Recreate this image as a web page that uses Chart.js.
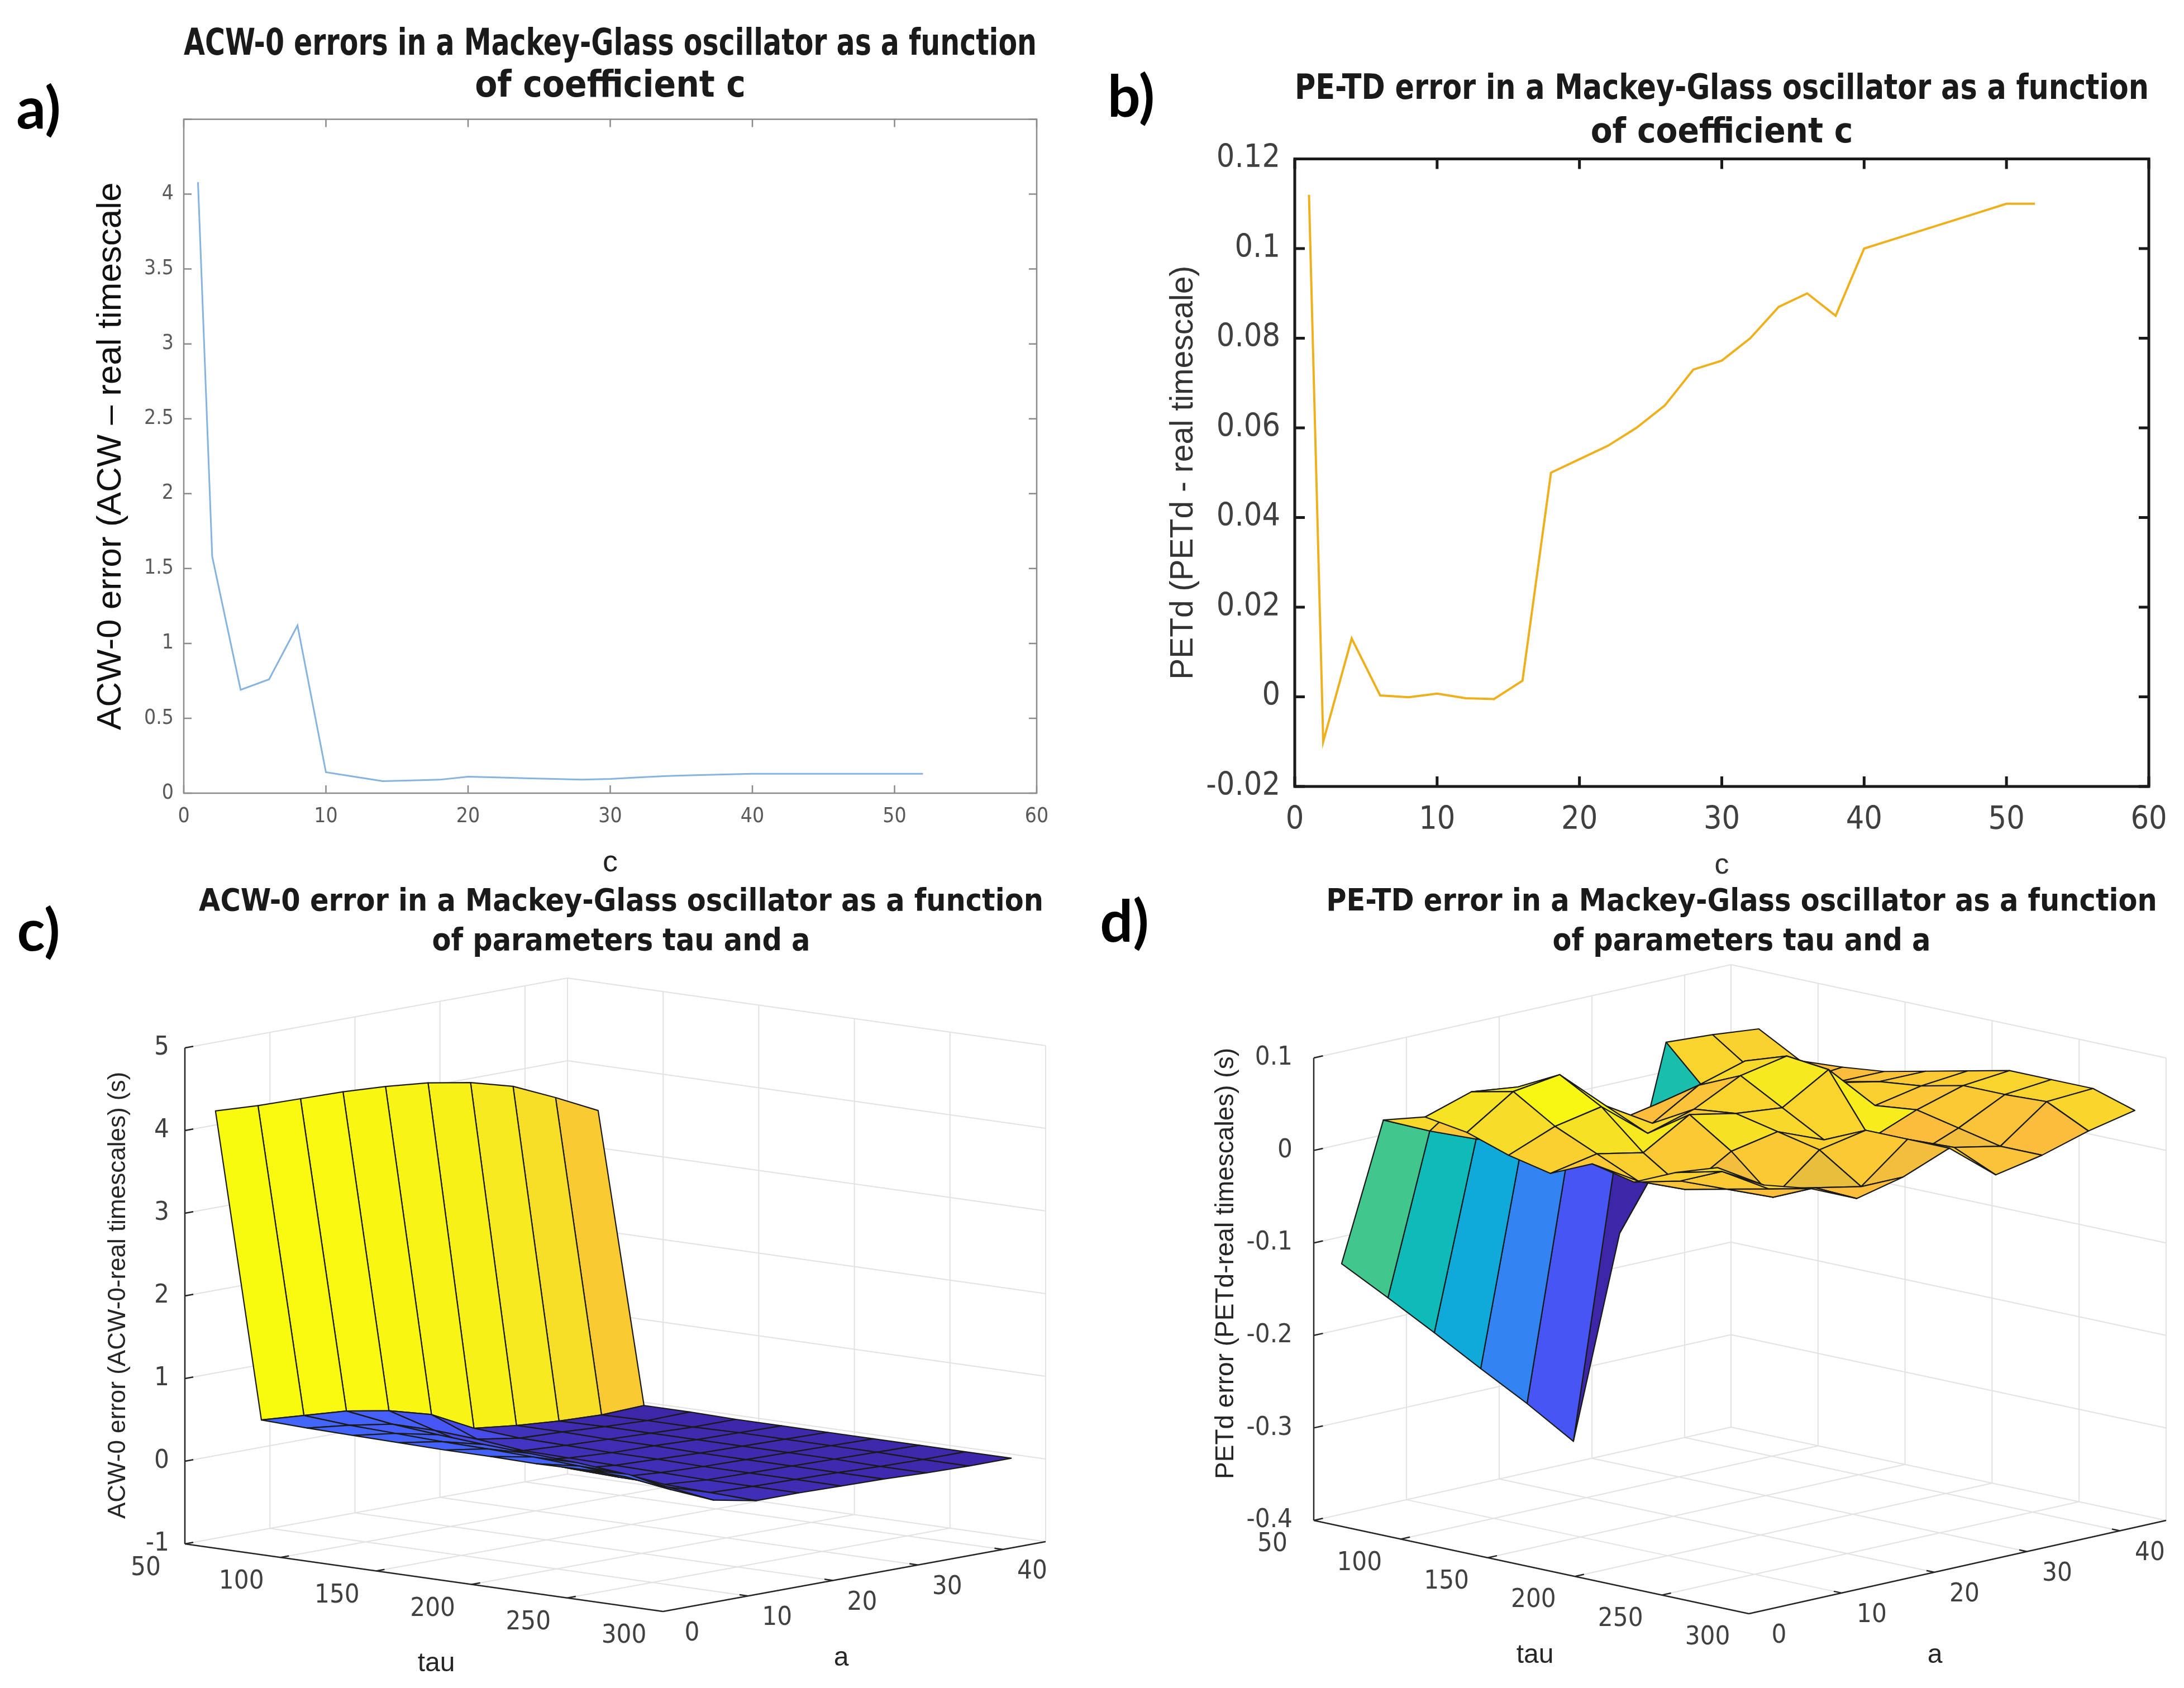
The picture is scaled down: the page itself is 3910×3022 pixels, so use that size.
<!DOCTYPE html>
<html>
<head>
<meta charset="utf-8">
<title>Mackey-Glass oscillator errors</title>
<script src="https://cdn.jsdelivr.net/npm/chart.js@4.4.1/dist/chart.umd.min.js"></script>
<style>
  html, body { margin: 0; padding: 0; background: #fff; }
  body { width: 3910px; height: 3022px; position: relative; overflow: hidden; }
  canvas { position: absolute; }
</style>
</head>
<body>
<canvas id="panelA" style="left:0;top:0" width="1950" height="1600"></canvas>
<canvas id="panelB" style="left:1950px;top:0" width="1960" height="1600"></canvas>
<canvas id="panelC" style="left:0;top:1560px" width="1950" height="1462"></canvas>
<canvas id="panelD" style="left:1950px;top:1560px" width="1960" height="1462"></canvas>
<script>
// ---- data: errors vs coefficient c (panels a, b) ----
const cValues = [1, 2, 4, 6, 8, 10, 12, 14, 16, 18, 20, 22, 24, 26, 28, 30, 32, 34, 36, 38, 40, 42, 44, 46, 48, 50, 52];
const acwErrors = [4.08, 1.58, 0.69, 0.76, 1.12, 0.14, 0.11, 0.08, 0.085, 0.09, 0.11, 0.105, 0.10, 0.095, 0.09, 0.095,
                   0.105, 0.115, 0.12, 0.125, 0.13, 0.13, 0.13, 0.13, 0.13, 0.13, 0.13];
const petdErrors = [0.112, -0.01, 0.013, 0.0003, -0.0001, 0.0007, -0.0003, -0.0005, 0.0036, 0.050, 0.053, 0.056, 0.060,
                    0.065, 0.073, 0.075, 0.080, 0.087, 0.090, 0.085, 0.100, 0.102, 0.104, 0.106, 0.108, 0.110, 0.110];

// ---- data: errors vs tau and a (panels c, d); rows = tau, columns = a ----
const tauValues = [66, 90, 114, 138, 162, 186, 210, 234, 258, 282];
const aValues = [0, 5, 10, 15, 20, 25, 30, 35, 40, 45];
const acwSurface = [
  [4.29, 4.26, 4.25, 4.24, 4.21, 4.16, 4.07, 3.93, 3.70, 3.45],
  [0.63, 0.59, 0.55, 0.46, 0.32, 0.06, 0.00, -0.04, -0.06, -0.04],
  [0.61, 0.55, 0.47, 0.30, 0.10, 0.02, 0.00, -0.03, -0.05, -0.04],
  [0.60, 0.53, 0.42, 0.15, 0.04, 0.01, -0.01, -0.03, -0.05, -0.05],
  [0.59, 0.51, 0.38, 0.10, 0.03, 0.00, -0.01, -0.03, -0.04, -0.05],
  [0.58, 0.50, 0.35, 0.07, 0.02, 0.00, -0.02, -0.03, -0.04, -0.05],
  [0.58, 0.48, 0.32, 0.05, 0.01, -0.01, -0.02, -0.03, -0.04, -0.05],
  [0.57, 0.45, 0.27, 0.04, 0.00, -0.01, -0.02, -0.03, -0.04, -0.05],
  [0.58, 0.40, 0.18, 0.02, 0.00, -0.01, -0.02, -0.04, -0.05, -0.05],
  [0.60, 0.32, 0.10, 0.00, 0.00, -0.01, -0.02, -0.04, -0.05, -0.05]
];
const petdSurface = [
  [-0.116, -0.164, -0.213, -0.263, -0.312, -0.364, -0.150, 0.045, 0.042, 0.037],
  [0.049, 0.026, 0.006, -0.008, -0.027, -0.050, -0.060, 0.000, 0.011, 0.012],
  [0.062, 0.078, 0.072, 0.040, 0.010, 0.020, 0.030, 0.020, 0.010, 0.015],
  [0.055, 0.088, 0.095, 0.050, 0.020, 0.050, 0.065, 0.055, 0.020, 0.020],
  [0.040, 0.060, 0.070, 0.030, 0.045, 0.070, 0.080, 0.040, 0.030, 0.030],
  [0.030, 0.040, 0.030, 0.060, 0.050, 0.045, 0.075, 0.025, 0.035, 0.040],
  [0.050, 0.020, 0.000, 0.030, 0.040, 0.020, 0.010, 0.030, 0.045, 0.050],
  [0.040, 0.030, 0.010, -0.010, 0.030, 0.040, 0.000, 0.020, 0.045, 0.050],
  [0.060, 0.050, 0.020, 0.010, 0.000, 0.040, 0.020, 0.010, 0.047, 0.050],
  [0.075, 0.045, 0.030, 0.008, 0.020, 0.040, 0.000, 0.010, 0.025, 0.036]
];
const tauTicks = [50, 100, 150, 200, 250, 300];
const aTicks = [0, 10, 20, 30, 40];
const acwZTicks = [-1, 0, 1, 2, 3, 4, 5];
const petdZTicks = [-0.4, -0.3, -0.2, -0.1, 0, 0.1];

const NARROW = '"Liberation Sans Narrow", "Arial Narrow", "DejaVu Sans Condensed", sans-serif';
const SANS = '"Liberation Sans", Arial, sans-serif';
const LETTER = 'Lato, "Open Sans", sans-serif';

// parula-like colormap
const parulaStops = [
  [0.00, 62, 38, 168], [0.10, 72, 80, 242], [0.17, 66, 106, 252], [0.25, 40, 148, 236],
  [0.33, 16, 170, 218], [0.41, 4, 184, 194], [0.49, 34, 193, 164], [0.57, 84, 202, 128],
  [0.65, 150, 200, 90], [0.73, 208, 194, 60], [0.81, 252, 188, 62], [0.87, 250, 204, 50],
  [0.93, 246, 228, 36], [1.00, 249, 251, 14]
];
function parula(t) {
  t = Math.max(0, Math.min(1, t));
  for (let k = 1; k < parulaStops.length; k++) {
    const [t1, r1, g1, b1] = parulaStops[k];
    const [t0, r0, g0, b0] = parulaStops[k - 1];
    if (t <= t1) {
      const f = (t - t0) / (t1 - t0);
      return `rgb(${Math.round(r0 + f * (r1 - r0))},${Math.round(g0 + f * (g1 - g0))},${Math.round(b0 + f * (b1 - b0))})`;
    }
  }
  return 'rgb(249,251,14)';
}

// panel letters a) b) c) d)
const panelLetter = {
  id: 'panelLetter',
  afterDraw(chart, args, opts) {
    const ctx = chart.ctx;
    ctx.save();
    ctx.font = `bold ${opts.size}px ${LETTER}`;
    ctx.fillStyle = '#000';
    ctx.textAlign = 'center';
    ctx.textBaseline = 'middle';
    ctx.fillText(opts.text, opts.x, opts.y);
    ctx.restore();
  }
};

// matlab style box with inward ticks on all four sides
const matlabBox = {
  id: 'matlabBox',
  afterDatasetsDraw(chart, args, opts) {
    const { ctx, chartArea: ca, scales: { x, y } } = chart;
    ctx.save();
    ctx.strokeStyle = opts.color;
    ctx.lineWidth = opts.width;
    ctx.strokeRect(ca.left, ca.top, ca.right - ca.left, ca.bottom - ca.top);
    ctx.beginPath();
    x.ticks.forEach(t => {
      const px = x.getPixelForValue(t.value);
      ctx.moveTo(px, ca.bottom); ctx.lineTo(px, ca.bottom - opts.tick);
      ctx.moveTo(px, ca.top); ctx.lineTo(px, ca.top + opts.tick);
    });
    y.ticks.forEach(t => {
      const py = y.getPixelForValue(t.value);
      ctx.moveTo(ca.left, py); ctx.lineTo(ca.left + opts.tick, py);
      ctx.moveTo(ca.right, py); ctx.lineTo(ca.right - opts.tick, py);
    });
    ctx.stroke();
    ctx.restore();
  }
};

// ---- panel a ----
new Chart(document.getElementById('panelA'), {
  type: 'line',
  data: {
    datasets: [{
      data: cValues.map((c, i) => ({ x: c, y: acwErrors[i] })),
      borderColor: '#86b4de', borderWidth: 3, pointRadius: 0, tension: 0, fill: false
    }]
  },
  options: {
    responsive: false, animation: false, devicePixelRatio: 1,
    layout: { padding: { left: 0, right: 94, top: 0, bottom: 0 } },
    plugins: {
      legend: { display: false }, tooltip: { enabled: false },
      title: {
        display: true, fullSize: false,
        text: ['ACW-0 errors in a Mackey-Glass oscillator as a function', 'of coefficient c'],
        font: { family: NARROW, size: 65, weight: 'bold', lineHeight: 1.15 },
        color: '#1a1a1a', padding: { top: 44, bottom: 20 }
      },
      panelLetter: { text: 'a)', x: 69, y: 196, size: 104 },
      matlabBox: { color: '#8a8a8a', width: 2.5, tick: 14 }
    },
    scales: {
      x: {
        type: 'linear', min: 0, max: 60,
        ticks: { stepSize: 10, font: { family: NARROW, size: 37 }, color: '#5a5a5a', padding: 20, maxRotation: 0 },
        grid: { display: false, drawTicks: false }, border: { display: false },
        title: { display: true, text: 'c', font: { family: SANS, size: 54 }, color: '#222', padding: { top: 0, bottom: 22 } },
        afterFit: s => { s.height = 180; }
      },
      y: {
        type: 'linear', min: 0, max: 4.5,
        ticks: {
          stepSize: 0.5, font: { family: NARROW, size: 37 }, color: '#5a5a5a', padding: 18,
          callback: v => (Math.abs(v - 4.5) < 1e-9 ? '' : v)
        },
        grid: { display: false, drawTicks: false }, border: { display: false },
        title: { display: true, text: 'ACW-0 error (ACW – real timescale', font: { family: SANS, size: 62 }, color: '#111', padding: { top: 162, bottom: 0 } },
        afterFit: s => { s.width = 329; }
      }
    }
  },
  plugins: [panelLetter, matlabBox]
});

// ---- panel b ----
new Chart(document.getElementById('panelB'), {
  type: 'line',
  data: {
    datasets: [{
      data: cValues.map((c, i) => ({ x: c, y: petdErrors[i] })),
      borderColor: '#edb120', borderWidth: 4, pointRadius: 0, tension: 0, fill: false
    }]
  },
  options: {
    responsive: false, animation: false, devicePixelRatio: 1,
    layout: { padding: { left: 0, right: 63, top: 0, bottom: 0 } },
    plugins: {
      legend: { display: false }, tooltip: { enabled: false },
      title: {
        display: true, fullSize: false,
        text: ['PE-TD error in a Mackey-Glass oscillator as a function', 'of coefficient c'],
        font: { family: NARROW, size: 63, weight: 'bold', lineHeight: 1.25 },
        color: '#1a1a1a', padding: { top: 121, bottom: 6 }
      },
      panelLetter: { text: 'b)', x: 75, y: 175, size: 104 },
      matlabBox: { color: '#1a1a1a', width: 5, tick: 18 }
    },
    scales: {
      x: {
        type: 'linear', min: 0, max: 60,
        ticks: { stepSize: 10, font: { family: NARROW, size: 57 }, color: '#404040', padding: 27, maxRotation: 0 },
        grid: { display: false, drawTicks: false }, border: { display: false },
        title: { display: true, text: 'c', font: { family: SANS, size: 52 }, color: '#333', padding: { top: 0, bottom: 19 } },
        afterFit: s => { s.height = 192; }
      },
      y: {
        type: 'linear', min: -0.02, max: 0.12,
        ticks: {
          stepSize: 0.02, font: { family: NARROW, size: 57 }, color: '#404040', padding: 26,
          callback: v => String(Number(v.toFixed(2)))
        },
        grid: { display: false, drawTicks: false }, border: { display: false },
        title: { display: true, text: 'PETd (PETd - real timescale)', font: { family: SANS, size: 57 }, color: '#333', padding: { top: 135, bottom: 0 } },
        afterFit: s => { s.width = 368; }
      }
    }
  },
  plugins: [panelLetter, matlabBox]
});

// ---- 3D surface panels ----
function projector(g) {
  return (tau, a, z) => {
    const u = (tau - g.tauRange[0]) / (g.tauRange[1] - g.tauRange[0]);
    const v = (a - g.aRange[0]) / (g.aRange[1] - g.aRange[0]);
    const w = (z - g.zRange[0]) / (g.zRange[1] - g.zRange[0]);
    return {
      x: g.origin[0] + u * g.tauAxis[0] + v * g.aAxis[0],
      y: g.origin[1] + u * g.tauAxis[1] + v * g.aAxis[1] - w * g.height,
      depth: u * g.tauAxis[1] + v * g.aAxis[1]
    };
  };
}

function surfacePlugin(cfg) {
  const project = projector(cfg.geom);
  const g = cfg.geom;
  return {
    id: 'surfacePlot',
    beforeDatasetsDraw(chart) {
      const { ctx, scales: { x: sx, y: sy } } = chart;
      const P = (t, a, z) => {
        const p = project(t, a, z);
        return { x: sx.getPixelForValue(p.x), y: sy.getPixelForValue(p.y), depth: p.depth };
      };
      const [t0, t1] = g.tauRange, [a0, a1] = g.aRange, [z0, z1] = g.zRange;
      const line = (p, q) => { ctx.moveTo(p.x, p.y); ctx.lineTo(q.x, q.y); };

      ctx.save();
      // back planes and floor grid
      ctx.strokeStyle = '#e2e2e2';
      ctx.lineWidth = 2;
      ctx.beginPath();
      cfg.tauTicks.forEach(t => {
        line(P(t, a0, z0), P(t, a1, z0));
        line(P(t, a1, z0), P(t, a1, z1));
      });
      cfg.aTicks.forEach(a => {
        line(P(t0, a, z0), P(t1, a, z0));
        line(P(t0, a, z0), P(t0, a, z1));
      });
      cfg.zTicks.forEach(z => {
        line(P(t0, a1, z), P(t1, a1, z));
        line(P(t0, a0, z), P(t0, a1, z));
      });
      ctx.stroke();

      // axis lines and tick marks
      ctx.strokeStyle = '#262626';
      ctx.lineWidth = 2.5;
      ctx.beginPath();
      line(P(t0, a0, z0), P(t1, a0, z0));
      line(P(t1, a0, z0), P(t1, a1, z0));
      line(P(t0, a0, z0), P(t0, a0, z1));
      const tickA = (a1 - a0) * 0.022, tickT = (t1 - t0) * 0.018;
      cfg.tauTicks.forEach(t => line(P(t, a0, z0), P(t, a0 + tickA, z0)));
      cfg.aTicks.forEach(a => line(P(t1, a, z0), P(t1 - tickT, a, z0)));
      cfg.zTicks.forEach(z => line(P(t0, a0, z), P(t0, a0 + tickA, z)));
      ctx.stroke();

      // surface faces, far to near
      const zs = cfg.z.flat();
      const zmin = Math.min(...zs), zmax = Math.max(...zs);
      const faces = [];
      for (let i = 0; i < cfg.tau.length - 1; i++) {
        for (let j = 0; j < cfg.a.length - 1; j++) {
          const pts = [[i, j], [i + 1, j], [i + 1, j + 1], [i, j + 1]].map(([r, c]) => P(cfg.tau[r], cfg.a[c], cfg.z[r][c]));
          faces.push({
            pts,
            depth: pts.reduce((s, p) => s + p.depth, 0) / 4,
            color: parula((cfg.z[i][j] - zmin) / (zmax - zmin))
          });
        }
      }
      faces.sort((f, h) => f.depth - h.depth);
      ctx.lineWidth = 2.2;
      ctx.lineJoin = 'round';
      ctx.strokeStyle = '#1a1a1a';
      faces.forEach(f => {
        ctx.beginPath();
        f.pts.forEach((p, k) => (k ? ctx.lineTo(p.x, p.y) : ctx.moveTo(p.x, p.y)));
        ctx.closePath();
        ctx.fillStyle = f.color;
        ctx.fill();
        ctx.stroke();
      });

      // tick labels
      ctx.fillStyle = '#404040';
      ctx.font = `${cfg.tickSize}px ${NARROW}`;
      ctx.textBaseline = 'middle';
      ctx.textAlign = 'right';
      cfg.zTicks.forEach(z => {
        const p = P(t0, a0, z);
        ctx.fillText(String(z), p.x - cfg.zLabelGap, p.y);
      });
      ctx.textAlign = 'center';
      cfg.tauTicks.forEach(t => {
        const p = P(t, a0, z0);
        ctx.fillText(String(t), p.x + cfg.tauLabelOff[0], p.y + cfg.tauLabelOff[1]);
      });
      cfg.aTicks.forEach(a => {
        const p = P(t1, a, z0);
        ctx.fillText(String(a), p.x + cfg.aLabelOff[0], p.y + cfg.aLabelOff[1]);
      });

      // axis titles
      ctx.fillStyle = '#262626';
      ctx.font = `${cfg.axisTitleSize}px ${SANS}`;
      ctx.fillText('tau', cfg.tauTitle[0], cfg.tauTitle[1]);
      ctx.fillText('a', cfg.aTitle[0], cfg.aTitle[1]);
      ctx.save();
      ctx.translate(cfg.zTitle[0], cfg.zTitle[1]);
      ctx.rotate(-Math.PI / 2);
      ctx.font = `${cfg.zTitleSize}px ${SANS}`;
      ctx.fillText(cfg.zLabel, 0, 0);
      ctx.restore();

      // chart title
      ctx.fillStyle = '#1a1a1a';
      ctx.font = `bold ${cfg.titleSize}px ${NARROW}`;
      cfg.title.forEach((txt, k) => ctx.fillText(txt, cfg.titlePos[0], cfg.titlePos[1] + k * cfg.titleGap));
      ctx.restore();
    }
  };
}

function surfaceChart(canvasId, cfg) {
  const canvas = document.getElementById(canvasId);
  const project = projector(cfg.geom);
  const verts = [];
  cfg.tau.forEach((t, i) => cfg.a.forEach((a, j) => {
    const p = project(t, a, cfg.z[i][j]);
    verts.push({ x: p.x, y: p.y });
  }));
  return new Chart(canvas, {
    type: 'scatter',
    data: { datasets: [{ data: verts, pointRadius: 0, showLine: false }] },
    options: {
      responsive: false, animation: false, devicePixelRatio: 1,
      layout: { padding: 0 },
      scales: {
        x: { type: 'linear', min: 0, max: canvas.width, display: false },
        y: { type: 'linear', min: 0, max: canvas.height, reverse: true, display: false }
      },
      plugins: { legend: { display: false }, tooltip: { enabled: false }, panelLetter: cfg.letter }
    },
    plugins: [panelLetter, surfacePlugin(cfg)]
  });
}

surfaceChart('panelC', {
  tau: tauValues, a: aValues, z: acwSurface,
  tauTicks, aTicks, zTicks: acwZTicks,
  geom: { tauRange: [50, 300], aRange: [0, 45], zRange: [-1, 5], origin: [331, 1204], tauAxis: [856, 121], aAxis: [685, -125], height: 888 },
  tickSize: 47, zLabelGap: 28, tauLabelOff: [-70, 44], aLabelOff: [52, 40],
  axisTitleSize: 48, tauTitle: [781, 1419], aTitle: [1506, 1409],
  zTitle: [212, 759], zTitleSize: 44, zLabel: 'ACW-0 error (ACW-0-real timescales) (s)',
  titleSize: 55, titlePos: [1112, 56], titleGap: 71,
  title: ['ACW-0 error in a Mackey-Glass oscillator as a function', 'of parameters tau and a'],
  letter: { text: 'c)', x: 69, y: 108, size: 104 }
});

surfaceChart('panelD', {
  tau: tauValues, a: aValues, z: petdSurface,
  tauTicks, aTicks, zTicks: petdZTicks,
  geom: { tauRange: [50, 300], aRange: [0, 45], zRange: [-0.4, 0.1], origin: [402, 1162], tauAxis: [779, 167], aAxis: [747, -167], height: 828 },
  tickSize: 47, zLabelGap: 38, tauLabelOff: [-74, 43], aLabelOff: [54, 40],
  axisTitleSize: 48, tauTitle: [798, 1404], aTitle: [1514, 1404],
  zTitle: [245, 702], zTitleSize: 46, zLabel: 'PETd error (PETd-real timescales) (s)',
  titleSize: 55, titlePos: [1168, 56], titleGap: 71,
  title: ['PE-TD error in a Mackey-Glass oscillator as a function', 'of parameters tau and a'],
  letter: { text: 'd)', x: 63, y: 92, size: 104 }
});
</script>
</body>
</html>
